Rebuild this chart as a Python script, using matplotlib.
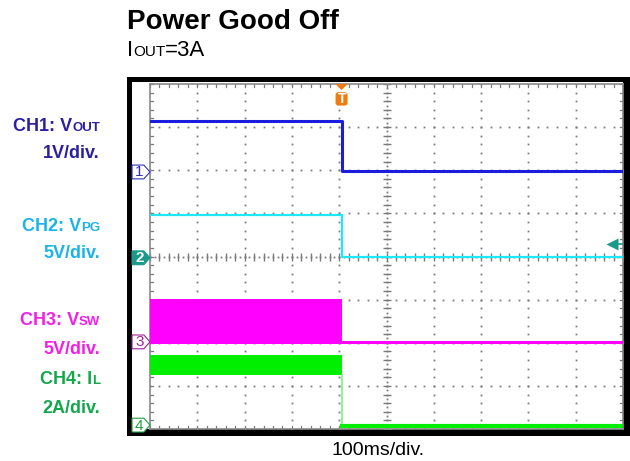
import numpy as np
import matplotlib
matplotlib.use("Agg")
import matplotlib.pyplot as plt
from matplotlib.patches import Rectangle, Polygon, FancyBboxPatch

plt.rcParams['font.family'] = ['Liberation Sans', 'DejaVu Sans']

# ---------------- data ----------------
title = "Power Good Off"
time_scale_ms = 100          # ms/div
t_edge = -95                 # ms, power-good goes low
t_span = [-500, 500]         # ms

ch_names = ["CH1: V", "CH2: V", "CH3: V", "CH4: I"]
ch_subs = ["OUT", "PG", "SW", "L"]
ch_scales_lbl = ["1V/div.", "5V/div.", "5V/div.", "2A/div."]
ch_scale = [1.0, 5.0, 5.0, 2.0]      # units/div
ch_offset = [5.96, 3.97, 2.02, 0.09] # div from bottom

ch1_before, ch1_after = 1.18, 0.02   # V
ch2_before, ch2_after = 5.0, 0.08    # V
ch2_trig_level = 1.6                 # V
ch3_band = [-0.25, 4.95]             # V (switching band)
ch3_after = 0.0
ch4_band = [2.32, 3.25]              # A (ripple band)
ch4_after = -0.05

c_trace = ["#1c1cdc", "#1ee8f5", "#ff00ff", "#00ee00"]
c_label = ["#2b20a0", "#1ab4ea", "#f41ee6", "#14a84c"]

# ---------------- figure ----------------
W, H = 630, 461
fig = plt.figure(figsize=(W / 100, H / 100), dpi=100)

def fx(px):
    return px / W

def fy(py):
    return 1 - py / H

# black frame and white inner area
fig.patches.append(Rectangle((fx(127), fy(436)), fx(630) - fx(127), fy(77) - fy(436),
                             transform=fig.transFigure, facecolor="black", edgecolor="none", zorder=-3))
fig.patches.append(Rectangle((fx(132), fy(429)), fx(623) - fx(132), fy(82) - fy(429),
                             transform=fig.transFigure, facecolor="white", edgecolor="none", zorder=-2))

ax = fig.add_axes([fx(150), fy(429), fx(623) - fx(150), fy(84) - fy(429)])
ax.set_zorder(1)
ax.set_facecolor("white")
ax.set_xlim(-5, 5)
ax.set_ylim(0, 8)
ax.set_xticks([])
ax.set_yticks([])
for s in ax.spines.values():
    s.set_color("#8a8a8a")
    s.set_linewidth(1.2)

# graticule: dotted grid (dots every 1/5 division)
gc = "#7a7a7a"
minor_y = np.arange(0, 8.001, 0.2)
minor_x = np.arange(-5, 5.001, 0.2)
for xi in range(-4, 5):
    if xi == 0:
        continue
    ax.plot(np.full_like(minor_y, xi), minor_y, ls="none", marker="s", ms=1.3, mfc=gc, mec="none", zorder=1)
for yi in range(1, 8):
    if yi == 4:
        continue
    ax.plot(minor_x, np.full_like(minor_x, yi), ls="none", marker="s", ms=1.3, mfc=gc, mec="none", zorder=1)
# center cross with tick marks
fine_y = np.arange(0, 8.001, 0.1)
fine_x = np.arange(-5, 5.001, 0.1)
ax.plot(np.zeros_like(fine_y), fine_y, ls="none", marker="s", ms=1.3, mfc=gc, mec="none", zorder=1)
ax.plot(fine_x, np.full_like(fine_x, 4), ls="none", marker="s", ms=1.3, mfc=gc, mec="none", zorder=1)
ax.plot(np.zeros_like(minor_y), minor_y, ls="none", marker="_", ms=6, mew=1.0, mec=gc, zorder=1)
ax.plot(minor_x, np.full_like(minor_x, 4), ls="none", marker="|", ms=6, mew=1.0, mec=gc, zorder=1)
# edge ticks
for yv in minor_y:
    ax.plot([-5, -4.93], [yv, yv], color=gc, lw=0.9, zorder=1)
    ax.plot([4.93, 5], [yv, yv], color=gc, lw=0.9, zorder=1)
for xv in minor_x:
    ax.plot([xv, xv], [0, 0.08], color=gc, lw=0.9, zorder=1)
    ax.plot([xv, xv], [7.92, 8], color=gc, lw=0.9, zorder=1)

def to_div(v, ch):
    return ch_offset[ch] + np.asarray(v, dtype=float) / ch_scale[ch]

tx = np.array([t_span[0], t_edge, t_edge, t_span[1]]) / time_scale_ms
x_edge = t_edge / time_scale_ms

# CH4 (green)
ax.fill_between([t_span[0] / time_scale_ms, x_edge], to_div(ch4_band[0], 3), to_div(ch4_band[1], 3),
                color=c_trace[3], lw=0, zorder=3)
ax.plot([x_edge, x_edge], [to_div(ch4_band[0], 3), to_div(ch4_after, 3)], color="#7ef07e", lw=1.2, zorder=3)
ax.plot([x_edge, t_span[1] / time_scale_ms], to_div([ch4_after, ch4_after], 3), color=c_trace[3], lw=3, zorder=3)

# CH3 (magenta)
ax.fill_between([t_span[0] / time_scale_ms, x_edge], to_div(ch3_band[0], 2), to_div(ch3_band[1], 2),
                color=c_trace[2], lw=0, zorder=4)
ax.plot([x_edge, t_span[1] / time_scale_ms], to_div([ch3_after, ch3_after], 2), color=c_trace[2], lw=2.2, zorder=4)

# CH2 (cyan)
ax.plot(tx, to_div([ch2_before, ch2_before, ch2_after, ch2_after], 1), color=c_trace[1], lw=1.6, zorder=5)

# CH1 (blue)
ax.plot(tx, to_div([ch1_before, ch1_before, ch1_after, ch1_after], 0), color=c_trace[0], lw=2.2, zorder=6)

# channel ground markers at left
mk_edge = ["#3030c0", "#1a9a8a", "#a020a0", "#20a040"]
mk_fill = ["white", "#1a9a8a", "white", "white"]
mk_txt = ["#3030c0", "white", "#a020a0", "#20a040"]
for i in range(4):
    yc = ch_offset[i]
    x0, x1, x2 = -5.38, -5.13, -5.0
    h = 0.16
    poly = Polygon([[x0, yc - h], [x1, yc - h], [x2, yc], [x1, yc + h], [x0, yc + h]],
                   closed=True, facecolor=mk_fill[i], edgecolor=mk_edge[i], lw=0.8,
                   clip_on=False, zorder=7)
    ax.add_patch(poly)
    ax.text((x0 + x1) / 2 + 0.03, yc - 0.01, str(i + 1), color=mk_txt[i], fontsize=11,
            ha="center", va="center", clip_on=False, zorder=8, fontweight="bold" if i == 1 else "normal")

# trigger marker at top
orange = "#f07a10"
ax.add_patch(Polygon([[x_edge - 0.13, 8.0], [x_edge + 0.13, 8.0], [x_edge, 7.86]], closed=True,
                     facecolor=orange, edgecolor="none", clip_on=False, zorder=8))
ax.add_patch(FancyBboxPatch((x_edge - 0.127, 7.5), 0.254, 0.31, boxstyle="round,pad=0,rounding_size=0.06",
                            facecolor=orange, edgecolor="none", zorder=8))
ax.text(x_edge, 7.645, "T", color="white", fontsize=10, fontweight="bold", ha="center", va="center", zorder=9)

# trigger level arrow at right
ax.plot([4.77], [to_div(ch2_trig_level, 1)], marker="<", ms=8, color="#1a9a8a", mec="none", zorder=8)
ax.plot([4.77, 5.0], [to_div(ch2_trig_level, 1)] * 2, color="#1a9a8a", lw=1.2, zorder=8)

# ---------------- texts ----------------
fig.text(fx(127), fy(29), title, fontsize=20, fontweight="bold", ha="left", va="baseline")
sub1 = fig.text(fx(127), fy(56), "I", fontsize=16, ha="left", va="baseline")
fig.canvas.draw()
r = fig.canvas.get_renderer()
bb = sub1.get_window_extent(r)
sub2 = fig.text(bb.x1 / W, fy(56), "OUT", fontsize=11, ha="left", va="baseline")
bb2 = sub2.get_window_extent(r)
fig.text(bb2.x1 / W, fy(56), "=3A", fontsize=16, ha="left", va="baseline")

fig.text(fx(378), fy(455), f"{time_scale_ms}ms/div.", fontsize=14, ha="center", va="baseline")

name_base = [131, 231, 325, 384]
scale_base = [158, 258, 354, 413]
xr = 100
for i in range(4):
    s = fig.text(fx(xr), fy(name_base[i]), ch_subs[i], fontsize=9.5, fontweight="bold",
                 color=c_label[i], ha="right", va="baseline")
    sb = s.get_window_extent(r)
    fig.text(sb.x0 / W, fy(name_base[i]), ch_names[i], fontsize=13, fontweight="bold",
             color=c_label[i], ha="right", va="baseline")
    fig.text(fx(xr), fy(scale_base[i]), ch_scales_lbl[i], fontsize=13, fontweight="bold",
             color=c_label[i], ha="right", va="baseline")

fig.savefig("out.png", dpi=100)
